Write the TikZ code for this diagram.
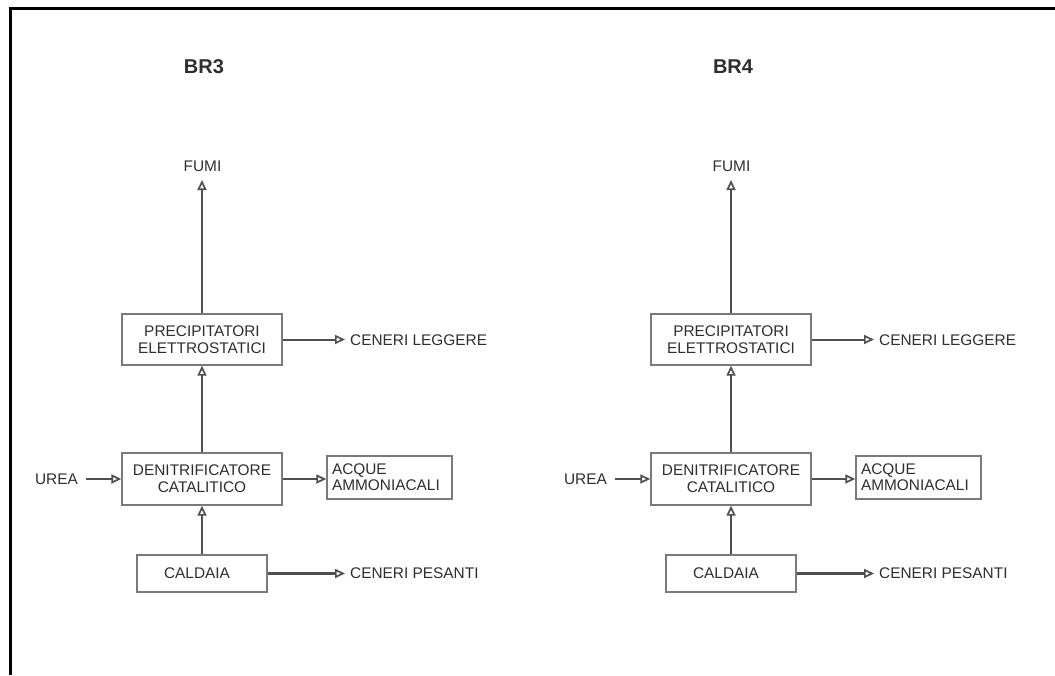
\documentclass[tikz,border=0pt]{standalone}
\usepackage{fontspec}
\setmainfont{Liberation Sans}
\usetikzlibrary{arrows.meta}
\definecolor{txt}{HTML}{2E2E2E}
\definecolor{ln}{HTML}{4F4F4F}
\definecolor{bx}{HTML}{7A7A7A}
\tikzset{
  lbl/.style={inner sep=0pt, text=txt, font=\fontsize{15.4}{17}\selectfont},
  boxn/.style={draw=bx, line width=1.4pt, inner sep=0pt, align=center, text=txt, font=\fontsize{15.4}{17}\selectfont},
  ttl/.style={inner sep=0pt, text=txt, font=\fontsize{20}{24}\selectfont\bfseries},
  arr/.style={draw=ln, line width=2pt, -{Triangle[open, length=10pt, width=9pt, line width=1.7pt]}},
  frame/.style={draw=black, line width=3pt}
}
\newcommand\plantdiagram[2]{%
  \node[ttl] (#1t) at (204,67) {#2};
  \node[lbl, inner ysep=8pt, anchor=south] (#1fumi) at (202.5,180) {FUMI};
  \node[boxn, minimum width=160pt, minimum height=51pt] (#1prec) at (202,339.5) {PRECIPITATORI\\ELETTROSTATICI};
  \node[boxn, minimum width=160pt, minimum height=52pt] (#1den) at (202,479) {DENITRIFICATORE\\CATALITICO};
  \node[boxn, minimum width=125pt, minimum height=43pt, text width=115pt, inner xsep=5pt, align=left] (#1acq) at (389.5,477.5) {ACQUE\\[-1pt]AMMONIACALI};
  \node[boxn, minimum width=130pt, minimum height=37pt] (#1cal) at (202,573.5) {CALDAIA\hspace*{10pt}};
  \node[lbl, inner xsep=8pt, anchor=east] (#1urea) at (86,479) {UREA};
  \node[lbl, inner xsep=5pt, anchor=west] (#1leg) at (345,340) {CENERI LEGGERE};
  \node[lbl, inner xsep=5pt, anchor=west] (#1pes) at (345,573) {CENERI PESANTI};
  \draw[arr] (#1prec.north) -- (#1fumi.south -| #1prec.north);
  \draw[arr] (#1den.north) -- (#1prec.south);
  \draw[arr] (#1cal.north) -- (#1den.south);
  \draw[arr] (#1urea.east) -- (#1urea.east -| #1den.west);
  \draw[arr] (#1den.east) -- (#1den.east -| #1acq.west);
  \draw[arr] (#1prec.east) -- (#1prec.east -| #1leg.west);
  \draw[arr, line width=2.6pt] (#1cal.east) -- (#1cal.east -| #1pes.west);
}
\begin{document}
\begin{tikzpicture}[x=1pt, y=-1pt]
  \useasboundingbox (0,0) rectangle (1055,675);
  \coordinate (fbl) at (10,675);
  \coordinate (ftl) at (10,8);
  \coordinate (ftr) at (1055,8);
  \draw[frame] (fbl) -- (ftl) -- (ftr);
  \plantdiagram{a}{BR3}
  \begin{scope}[xshift=529pt]
    \plantdiagram{b}{BR4}
  \end{scope}
\end{tikzpicture}
\end{document}
